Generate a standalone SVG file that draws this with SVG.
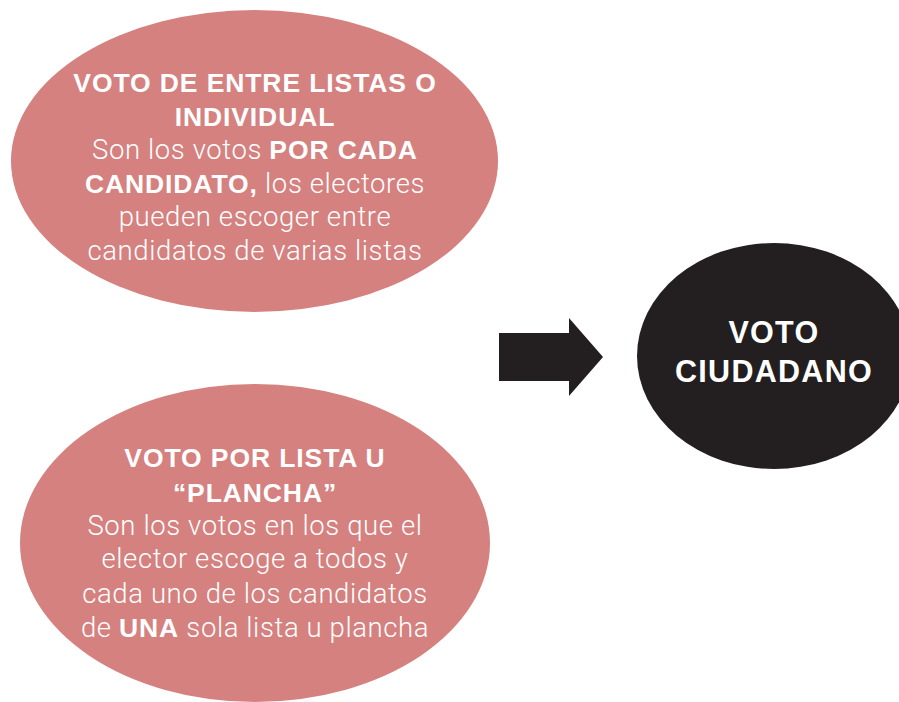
<svg xmlns="http://www.w3.org/2000/svg" width="899" height="702" viewBox="0 0 899 702">
<style>
.pink{fill:#d4817f}
.dark{fill:#231f20}
text{font-family:"Liberation Sans",Arial,sans-serif;fill:#fff;text-anchor:middle}
.b{font-weight:bold;font-size:26.5px;letter-spacing:0.9px}
.l{font-family:Roboto,"Liberation Sans",sans-serif;font-weight:300;font-size:27.5px;letter-spacing:0.6px}
.lb{font-family:"Liberation Sans",Arial,sans-serif;font-weight:bold;font-size:26.5px;letter-spacing:0.9px}
.c{font-weight:bold;font-size:30.5px;letter-spacing:1.3px}
</style>
<rect width="899" height="702" fill="#fff"/>
<g id="node-entre-listas">
<ellipse class="pink" cx="254.5" cy="161" rx="243.5" ry="151"/>
<text class="b" x="255" y="92">VOTO DE ENTRE LISTAS O</text>
<text class="b" x="255" y="126">INDIVIDUAL</text>
<text class="l" x="255" y="159">Son los votos <tspan class="lb">POR CADA</tspan></text>
<text class="l" x="255" y="193"><tspan class="lb">CANDIDATO,</tspan> los electores</text>
<text class="l" x="255" y="226">pueden escoger entre</text>
<text class="l" x="255" y="260">candidatos de varias listas</text>
</g>
<g id="node-por-lista">
<ellipse class="pink" cx="255" cy="543" rx="235" ry="159"/>
<text class="b" x="255" y="467">VOTO POR LISTA U</text>
<text class="b" x="255" y="502">“PLANCHA”</text>
<text class="l" x="255" y="535">Son los votos en los que el</text>
<text class="l" x="255" y="568">elector escoge a todos y</text>
<text class="l" x="255" y="603">cada uno de los candidatos</text>
<text class="l" x="255" y="637">de <tspan class="lb">UNA</tspan> sola lista u plancha</text>
</g>
<g id="node-voto-ciudadano">
<ellipse class="dark" cx="774" cy="356" rx="137" ry="113"/>
<text class="c" x="774" y="343">VOTO</text>
<text class="c" x="774" y="382">CIUDADANO</text>
</g>
<g id="connectors">
<polygon class="dark" points="499,333 569,333 569,318 603,357 569,396 569,381 499,381"/>
</g>
</svg>
